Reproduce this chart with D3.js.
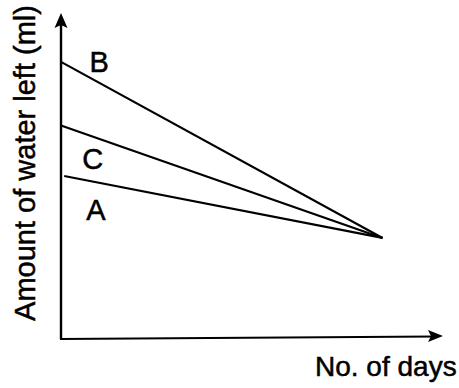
<!DOCTYPE html>
<head>
  <meta charset="UTF-8">
  <title>water left</title>
  <style>
  body, html, svg{
    padding: 0;
    margin: 0;
  }
  body{
    background: #fff;
  }
  text{
    font-family: "Liberation Sans", Arial, sans-serif;
    fill: #000;
    stroke: #000;
    stroke-width: 0.5;
  }
  </style>
</head>
<body>
  <script src="https://cdn.jsdelivr.net/npm/d3@7/dist/d3.min.js"></script>
  <script type="text/javascript">
  var width = 459;
  var height = 388;

  // data (arbitrary units, no ticks on the original)
  var series = ['B', 'C', 'A'];
  var startDays = [0, 0, 0.1];
  var startAmounts = [85, 65.5, 50];
  var endDay = 10.1;
  var endAmount = 31;
  var labelDays = [1.2, 1.0, 1.1];
  var labelAmounts = [82, 52, 36.5];

  var svg = d3.select('body')
    .append('svg')
    .attr('width', width)
    .attr('height', height);

  var x = d3.scaleLinear().domain([0, 12]).range([61, 443]);
  var y = d3.scaleLinear().domain([0, 100]).range([339, 13]);

  // axes (no ticks)
  var x0 = x(0), y0 = y(0), yTop = y(100), xEnd = x(12);
  svg.append('line')
    .attr('x1', x0).attr('y1', y0)
    .attr('x2', x0).attr('y2', yTop + 8)
    .attr('stroke', '#000')
    .attr('stroke-width', 2.4);

  svg.append('line')
    .attr('x1', x0 - 1).attr('y1', y0)
    .attr('x2', xEnd - 8).attr('y2', y0 - 2.5)
    .attr('stroke', '#000')
    .attr('stroke-width', 1.8);

  // arrow heads
  svg.append('path')
    .attr('d', 'M' + x0 + ',' + yTop + 'L' + (x0 + 6.5) + ',' + (yTop + 15) +
      'L' + x0 + ',' + (yTop + 12) + 'L' + (x0 - 6.5) + ',' + (yTop + 15) + 'Z')
    .attr('fill', '#000');

  var ya = y0 - 3;
  svg.append('path')
    .attr('d', 'M' + xEnd + ',' + ya + 'L' + (xEnd - 15) + ',' + (ya - 6) +
      'L' + (xEnd - 12) + ',' + ya + 'L' + (xEnd - 15) + ',' + (ya + 6) + 'Z')
    .attr('fill', '#000');

  var line = d3.line()
    .x(function(d){ return x(d[0]); })
    .y(function(d){ return y(d[1]); });

  series.forEach(function(name, i){
    svg.append('path')
      .datum([[startDays[i], startAmounts[i]], [endDay, endAmount]])
      .attr('d', line)
      .attr('fill', 'none')
      .attr('stroke', '#000')
      .attr('stroke-width', 2.2);

    svg.append('text')
      .attr('x', x(labelDays[i]))
      .attr('y', y(labelAmounts[i]))
      .attr('text-anchor', 'middle')
      .attr('font-size', 29)
      .text(name);
  });

  // axis titles
  svg.append('text')
    .attr('transform', 'translate(35,' + 163 + ') rotate(-90)')
    .attr('text-anchor', 'middle')
    .attr('font-size', 29)
    .text('Amount of water left (ml)');

  svg.append('text')
    .attr('x', 315)
    .attr('y', 376)
    .attr('font-size', 28)
    .text('No. of days');
  </script>
</body>
</html>
